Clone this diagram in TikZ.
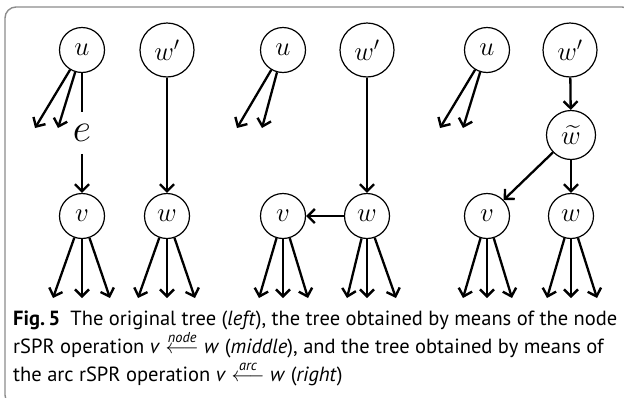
\RequirePackage{fix-cm}
\documentclass[tikz,border=0pt]{standalone}
\usepackage{amsmath}
\usepackage{fontspec}
\setmainfont{PT Sans}
\usetikzlibrary{arrows.meta}
\begin{document}
\begin{tikzpicture}[x=1pt,y=-1pt,
  nd/.style={draw, circle, line width=1.2pt, inner sep=0pt, minimum size=45pt,
             font=\fontsize{27}{30}\selectfont},
  ed/.style={line width=2.3pt, -{Straight Barb[length=7pt,width=14pt,line width=2.4pt]}},
  ln/.style={line width=2.3pt},
  frame/.style={draw=black!45, line width=1.4pt, rounded corners=11pt}]
\useasboundingbox (0,0) rectangle (624,397);
\clip (0,0) rectangle (624,397);
\draw[frame] (5,7) rectangle (633,406);

% ---- original tree
\node[nd] (uA) at (82,50) {$u$};
\node[nd, minimum size=54pt] (wpA) at (167,50) {$w'$};
\node[nd] (vA) at (82,216) {$v$};
\node[nd] (wA) at (167,216) {$w$};
\node[inner sep=12pt, font=\fontsize{40}{40}\selectfont] (eA) at (82,133) {$e$};
\coordinate (uA1) at (35,128); \coordinate (uA2) at (58,128);
\draw[ed] (uA) -- (uA1);
\draw[ed] (uA) -- (uA2);
\draw[ln] (uA) -- (eA);
\draw[ed] (eA) -- (vA);
\draw[ed] (wpA) -- (wA);
\foreach \x [count=\i] in {53,82,110} {\coordinate (vA\i) at (\x,298); \draw[ed] (vA) -- (vA\i);}
\foreach \x [count=\i] in {138,167,195} {\coordinate (wA\i) at (\x,298); \draw[ed] (wA) -- (wA\i);}

% ---- node rSPR
\node[nd] (uB) at (283,50) {$u$};
\node[nd, minimum size=54pt] (wpB) at (367,50) {$w'$};
\node[nd] (vB) at (283,216) {$v$};
\node[nd] (wB) at (367,216) {$w$};
\coordinate (uB1) at (237,128); \coordinate (uB2) at (262,128);
\draw[ed] (uB) -- (uB1);
\draw[ed] (uB) -- (uB2);
\draw[ed] (wpB) -- (wB);
\draw[ed] (wB) -- (vB);
\foreach \x [count=\i] in {259,283,308} {\coordinate (vB\i) at (\x,298); \draw[ed] (vB) -- (vB\i);}
\foreach \x [count=\i] in {347,367,396} {\coordinate (wB\i) at (\x,298); \draw[ed] (wB) -- (wB\i);}

% ---- arc rSPR
\node[nd] (uC) at (487,50) {$u$};
\node[nd, minimum size=54pt] (wpC) at (570,50) {$w'$};
\node[nd, minimum size=49pt] (wtC) at (571,135) {$\widetilde{w}$};
\node[nd] (vC) at (487,216) {$v$};
\node[nd] (wC) at (571,216) {$w$};
\coordinate (uC1) at (440,128); \coordinate (uC2) at (463,128);
\draw[ed] (uC) -- (uC1);
\draw[ed] (uC) -- (uC2);
\draw[ed] (wpC) -- (wtC);
\draw[ed] (wtC) -- (wC);
\draw[ed] (wtC) -- (vC);
\foreach \x [count=\i] in {463,487,512} {\coordinate (vC\i) at (\x,298); \draw[ed] (vC) -- (vC\i);}
\foreach \x [count=\i] in {547,571,597} {\coordinate (wC\i) at (\x,298); \draw[ed] (wC) -- (wC\i);}

% ---- caption
\node[anchor=north west, align=left, inner sep=0pt,
      font=\fontsize{20.5}{28}\selectfont] (cap) at (13,311)
  {\textbf{Fig.\,5}\enspace The original tree (\textit{left}), the tree obtained by means of the node\\
   rSPR operation \textit{v} \smash{$\overset{\textit{node}}{\longleftarrow}$} \textit{w} (\textit{middle}), and the tree obtained by means of\\
   the arc rSPR operation \textit{v} \smash{$\overset{\textit{arc}}{\longleftarrow}$} \textit{w} (\textit{right})};
\end{tikzpicture}
\end{document}
